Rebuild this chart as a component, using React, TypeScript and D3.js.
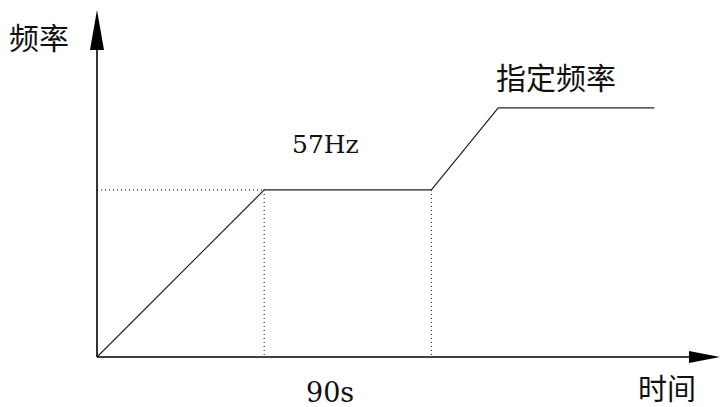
import React from "react";
import * as d3 from "d3";

const times = [0, 30, 60, 72, 100];
const freqs = [0, 57, 57, 85, 85];
const holdFreq = 57;
const holdLabel = "57Hz";
const durationLabel = "90s";
const targetLabel = "指定频率";
const yAxisLabel = "频率";
const xAxisLabel = "时间";

const W = 722;
const H = 407;

export default function App() {
  const x = d3.scaleLinear().domain([0, 110]).range([97, 710]);
  const y = d3.scaleLinear().domain([0, 118.4]).range([357, 10]);
  const line = d3
    .line<number>()
    .x((_, i) => x(times[i]))
    .y((d) => y(d));
  const x0 = x(0);
  const y0 = y(0);
  const xEnd = x(110);
  const yTop = y(118.4);
  const cjk = "Noto Sans CJK SC";
  const serif = "DejaVu Serif";
  return (
    <svg
      width={W}
      height={H}
      style={{ position: "absolute", left: 0, top: 0, background: "#fff" }}
    >
      <line x1={x0} x2={x(times[1])} y1={y(holdFreq)} y2={y(holdFreq)}
        stroke="#000" strokeWidth={1} strokeDasharray="1,3" />
      <line x1={x(times[1])} x2={x(times[1])} y1={y(holdFreq)} y2={y0}
        stroke="#000" strokeWidth={1} strokeDasharray="1,3" />
      <line x1={x(times[2])} x2={x(times[2])} y1={y(holdFreq)} y2={y0}
        stroke="#000" strokeWidth={1} strokeDasharray="1,3" />
      <path d={line(freqs) || ""} fill="none" stroke="#222" strokeWidth={1.2} />
      <line x1={x0} x2={xEnd - 20} y1={y0} y2={y0} stroke="#000" strokeWidth={1.6} />
      <line x1={x0} x2={x0} y1={y0} y2={yTop + 30} stroke="#000" strokeWidth={1.6} />
      <path d={`M${xEnd + 10},${y0} L${xEnd - 21},${y0 - 6} L${xEnd - 21},${y0 + 6} Z`} fill="#000" />
      <path d={`M${x0},${yTop} L${x0 - 7},${yTop + 40} L${x0 + 7},${yTop + 40} Z`} fill="#000" />
      <text x={9} y={49} fontFamily={cjk} fontSize={30} fill="#111">{yAxisLabel}</text>
      <text x={638} y={400} fontFamily={cjk} fontSize={29} fill="#111">{xAxisLabel}</text>
      <text x={496} y={89} fontFamily={cjk} fontSize={30} fill="#111">{targetLabel}</text>
      <text x={292} y={153} fontFamily={serif} fontSize={25} fill="#111">{holdLabel}</text>
      <text x={306} y={402} fontFamily={serif} fontSize={27} fill="#111">{durationLabel}</text>
    </svg>
  );
}
